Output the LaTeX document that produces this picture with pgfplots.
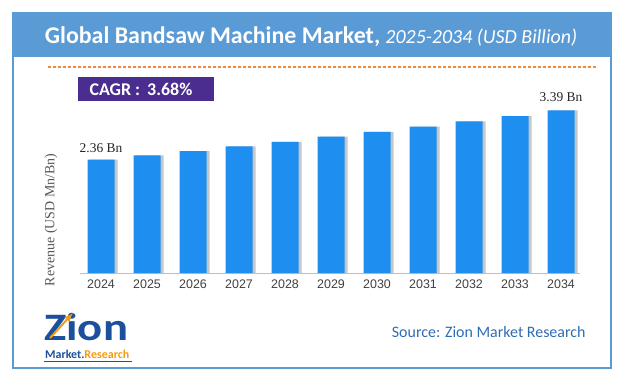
\documentclass[border=0pt]{standalone}
\usepackage{pgfplots}
\pgfplotsset{compat=1.18}
\usepackage{fontspec}
\setmainfont{Liberation Sans}
\newfontfamily\carlito{Carlito}
\newfontfamily\serifb{Liberation Serif}
\definecolor{framecol}{HTML}{5B9BD5}
\definecolor{barcol}{HTML}{1E8FF0}
\definecolor{cagrcol}{HTML}{4B2D90}
\definecolor{dashcol}{HTML}{F08A3C}
\definecolor{srccol}{HTML}{2E6DB4}
\definecolor{zionblue}{HTML}{1C4F9C}
\definecolor{zionorange}{HTML}{F39C12}
\begin{document}
\begin{tikzpicture}[x=1bp,y=1bp]
\useasboundingbox (0,0) rectangle (620,-381);
\fill[white] (0,0) rectangle (620,-381);
% title bar and frame
\fill[framecol] (13,-13) rectangle (611,-57);
\draw[framecol, line width=1.3bp] (13,-13) rectangle (611,-368);
\node[white, anchor=center] at (311,-37) {\carlito\fontsize{24}{28}\selectfont\textbf{Global Bandsaw Machine Market,} \textit{\fontsize{20}{24}\selectfont 2025-2034 (USD Billion)}};
% dashed line
\draw[dashcol, line width=1.2bp, dash pattern=on 3bp off 2bp] (48,-67) -- (597,-67);
% CAGR box
\fill[cagrcol] (78,-77) rectangle (214,-101);
\node[white, anchor=west] at (86,-89) {\carlito\fontsize{18}{20}\selectfont\textbf{CAGR :\, 3.68\%}};
% y label
\node[rotate=90, text=black!65] at (51,-220) {\serifb\fontsize{14}{16}\selectfont Revenue (USD Mn/Bn)};
\begin{axis}[
  at={(80bp,-273bp)}, anchor=south west,
  scale only axis, width=500bp, height=172.8bp,
  xmin=2023.543, xmax=2034.413, ymin=0, ymax=3.6,
  axis x line*=bottom, axis y line=none,
  x axis line style={black!25, line width=0.8bp, -},
  xtick=data, xtick style={draw=none},
  /pgf/number format/1000 sep={},
  /pgf/number format/assume math mode=true,
  xticklabel style={font=\fontsize{12.5}{14}\selectfont, text=black!75, yshift=-3bp},
  clip=false,
]
\addplot[ybar, bar width=27bp, bar shift=3bp, fill=black!22, draw=none] coordinates {
(2024,2.36) (2025,2.45) (2026,2.54) (2027,2.64) (2028,2.73) (2029,2.84) (2030,2.94) (2031,3.05) (2032,3.16) (2033,3.27) (2034,3.39)};
\addplot[ybar, bar width=27bp, bar shift=0bp, fill=barcol, draw=none] coordinates {
(2024,2.36) (2025,2.45) (2026,2.54) (2027,2.64) (2028,2.73) (2029,2.84) (2030,2.94) (2031,3.05) (2032,3.16) (2033,3.27) (2034,3.39)};
\node[anchor=south, text=black!85] at (axis cs:2024,2.36) [yshift=4bp] {\serifb\fontsize{13.5}{15}\selectfont 2.36 Bn};
\node[anchor=south, text=black!85] at (axis cs:2034,3.39) [yshift=5bp] {\serifb\fontsize{13.5}{15}\selectfont 3.39 Bn};
\end{axis}
% source
\node[anchor=east, text=srccol] at (589,-332) {\carlito\fontsize{16}{19}\selectfont Source: Zion Market Research};
% logo
\node[anchor=base west, inner sep=0] at (44,-358) {\vbox{\offinterlineskip
  \hbox{\scalebox{1.2}[1]{\carlito\fontsize{39}{39}\selectfont\textbf{\textcolor{zionblue}{Zion}}}}
  \kern 8.5bp
  \hbox{\kern1bp\carlito\fontsize{12}{12}\selectfont\textbf{\textcolor{zionblue}{Market.}\textcolor{zionorange}{Research}}}}};
\draw[zionorange, line width=2bp, -latex] (50,-338) -- (73,-313);
\draw[zionblue, line width=0.6bp] (44,-361) -- (132,-361);
\end{tikzpicture}
\end{document}
